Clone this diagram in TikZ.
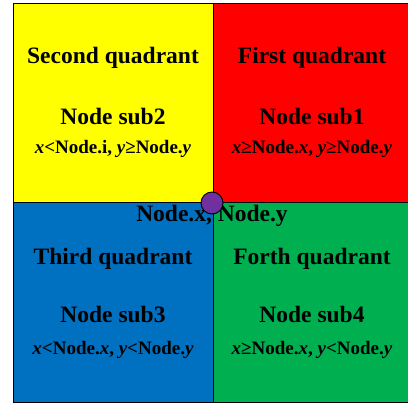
\documentclass[tikz,border=0pt]{standalone}
\usepackage{fontspec}
\setmainfont{Liberation Serif}
\definecolor{qyellow}{HTML}{FFFF00}
\definecolor{qred}{HTML}{FF0000}
\definecolor{qblue}{HTML}{0070C0}
\definecolor{qgreen}{HTML}{00B050}
\definecolor{qpurple}{HTML}{7030A0}
\begin{document}
\begin{tikzpicture}[x=1pt,y=-1pt,
  quad/.style={draw=black,line width=0.9pt},
  big/.style={font=\fontsize{23.5}{27}\selectfont\bfseries,inner sep=0pt},
  small/.style={font=\fontsize{19}{22}\selectfont\bfseries,inner sep=0pt}]
\useasboundingbox (0,0) rectangle (408,404);
\fill[white] (0,0) rectangle (408,404);
\filldraw[quad,fill=qyellow] (13,3) rectangle (213,202);
\filldraw[quad,fill=qred] (213,3) rectangle (410,202);
\filldraw[quad,fill=qblue] (13,202) rectangle (213,402);
\filldraw[quad,fill=qgreen] (213,202) rectangle (410,402);
\node[big] (t2) at (113,58) {Second quadrant};
\node[big] (s2) at (113,116) {Node sub2};
\node[small] (c2) at (113,149) {\textit{x}<Node.i, \textit{y}≥Node.\textit{y}};
\node[big] (t1) at (312,58) {First quadrant};
\node[big] (s1) at (312,116) {Node sub1};
\node[small] (c1) at (312,149) {\textit{x}≥Node.\textit{x}, \textit{y}≥Node.\textit{y}};
\node[big] (t3) at (113,259) {Third quadrant};
\node[big] (s3) at (113,314) {Node sub3};
\node[small] (c3) at (113,350) {\textit{x}<Node.\textit{x}, \textit{y}<Node.\textit{y}};
\node[big] (t4) at (312,259) {Forth quadrant};
\node[big] (s4) at (312,314) {Node sub4};
\node[small] (c4) at (312,350) {\textit{x}≥Node.\textit{x}, \textit{y}<Node.\textit{y}};
\node[big] (lbl) at (212,216) {Node.x, Node.y};
\node[circle,draw=black,fill=qpurple,line width=0.9pt,minimum size=22pt,inner sep=0pt] (c) at (212,203) {};
\end{tikzpicture}
\end{document}
